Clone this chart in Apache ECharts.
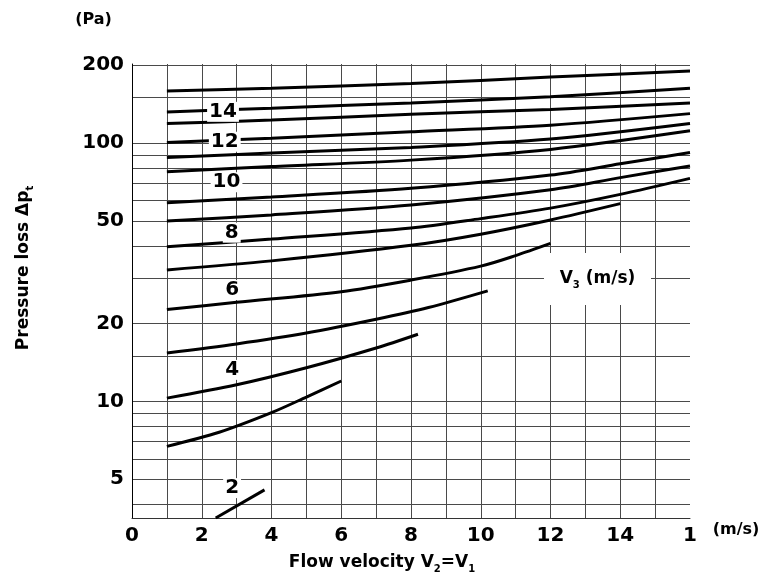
<!DOCTYPE html>
<html>
<head>
<meta charset="utf-8">
<script src="https://cdn.jsdelivr.net/npm/echarts@6/dist/echarts.min.js"></script>
<style>
html,body{margin:0;padding:0;background:#fff;}
#chart{width:768px;height:584px;}
</style>
</head>
<body>
<div id="chart"></div>
<script>
// ---- data ----
const xTickValues = [0, 2, 4, 6, 8, 10, 12, 14, 16];
const xTickLabels = ['0', '2', '4', '6', '8', '10', '12', '14', '1'];
const xGridValues = [0, 1, 2, 3, 4, 5, 6, 7, 8, 9, 10, 11, 12, 13, 14, 15];
const yTickValues = [5, 10, 20, 50, 100, 200];
const yGridValues = [4, 5, 6, 7, 8, 9, 10, 15, 20, 30, 40, 50, 60, 70, 80, 90, 100, 150, 200];

const curve1 = [[1, 159], [4, 163], [8, 170], [12, 180], [16, 190]];
const curve2 = [[1, 132], [4, 136.5], [8, 143], [12, 151], [16, 163]];
const curve3 = [[1, 119], [4, 122.7], [8, 129.4], [12, 135], [16, 143]];
const curve4 = [[1, 100.6], [4, 104.5], [8, 110.6], [12, 117.3], [16, 130]];
const curve5 = [[1, 88], [4, 91.5], [8, 96.2], [12, 103.6], [16, 119]];
const curve6 = [[1, 77.4], [4, 81.1], [8, 85.9], [12, 94.5], [16, 111.5]];
const curve7 = [[1, 58.8], [4, 61.8], [8, 66.8], [12, 75.2], [14, 83.1], [16, 92.0]];
const curve8 = [[1, 49.9], [4, 52.7], [8, 57.6], [12, 66.0], [14, 73.5], [16, 81.5]];
const curve9 = [[1, 39.7], [4, 42.5], [8, 46.9], [10, 51.0], [12, 56.0], [14, 63.3], [16, 73.0]];
const curve10 = [[1, 32.3], [4, 35], [8, 40.2], [10, 44.4], [12, 50.4], [14, 58.3]];
const curve11 = [[1, 22.7], [3, 24.2], [6, 26.6], [8, 29.5], [10, 33.4], [11, 36.7], [12, 40.9]];
const curve12 = [[1, 15.4], [3, 16.7], [5, 18.4], [7, 20.8], [8.5, 23.1], [10.2, 26.8]];
const curve13 = [[1, 10.3], [3, 11.6], [5, 13.5], [7, 16.1], [8.2, 18.2]];
const curve14 = [[1, 6.7], [2.5, 7.6], [4, 9.05], [5, 10.4], [6, 12.0]];
const curve15 = [[2.4, 3.54], [3.8, 4.55]];
const curves = [curve1, curve2, curve3, curve4, curve5, curve6, curve7, curve8,
  curve9, curve10, curve11, curve12, curve13, curve14, curve15];

const curveLabelText = ['14', '12', '10', '8', '6', '4', '2'];
const curveLabelX = [2.61, 2.66, 2.71, 2.86, 2.87, 2.87, 2.87];
const curveLabelY = [132.1, 101.1, 70.5, 45.0, 27.0, 13.25, 4.62];

// ---- chart ----
const FONT = '"DejaVu Sans", sans-serif';
const GRID_COLOR = '#4a4a4a';
const chart = echarts.init(document.getElementById('chart'), null, {renderer: 'canvas'});

const lineSeries = curves.map((c, i) => ({
  type: 'line',
  name: 'curve' + (i + 1),
  data: c,
  smooth: 0.3,
  symbol: 'none',
  silent: true,
  z: 3,
  lineStyle: {color: '#000', width: 3},
  clip: true
}));

const labelSeries = {
  type: 'scatter',
  name: 'labels',
  z: 6,
  silent: true,
  symbolSize: 1,
  itemStyle: {color: 'rgba(0,0,0,0)', opacity: 1},
  data: curveLabelText.map((t, i) => ({value: [curveLabelX[i], curveLabelY[i]], name: t})),
  label: {
    show: true,
    position: 'inside',
    formatter: p => p.name,
    fontFamily: FONT,
    fontWeight: 'bold',
    fontSize: 20,
    color: '#000',
    opacity: 1,
    textBorderWidth: 0,
    backgroundColor: '#fff',
    padding: [0, 2, 0, 2],
    lineHeight: 20
  }
};

const option = {
  backgroundColor: '#fff',
  animation: false,
  grid: {left: 132, right: 78, top: 64, bottom: 66},
  xAxis: {
    type: 'value',
    min: 0,
    max: 16,
    axisLine: {show: true, lineStyle: {color: '#333', width: 1}},
    axisTick: {show: false, customValues: xGridValues},
    splitLine: {show: true, lineStyle: {color: GRID_COLOR, width: 1}},
    axisLabel: {
      customValues: xTickValues,
      formatter: v => xTickLabels[xTickValues.indexOf(v)],
      fontFamily: FONT, fontWeight: 'bold', fontSize: 20, color: '#000', margin: 8
    }
  },
  yAxis: {
    type: 'log',
    logBase: 10,
    min: 3.54,
    max: 202.3,
    axisLine: {show: true, lineStyle: {color: '#000', width: 1}},
    axisTick: {show: false, customValues: yGridValues},
    splitLine: {show: true, lineStyle: {color: GRID_COLOR, width: 1}},
    minorSplitLine: {show: false},
    axisLabel: {
      customValues: yTickValues,
      formatter: v => String(v),
      fontFamily: FONT, fontWeight: 'bold', fontSize: 20, color: '#000', margin: 8
    }
  },
  graphic: [
    {
      type: 'text', x: 93.5, y: 19.5, z: 100,
      style: {text: '(Pa)', font: 'bold 16px ' + FONT, fill: '#000', textAlign: 'center', textVerticalAlign: 'middle'}
    },
    {
      type: 'text', x: 736, y: 530, z: 100,
      style: {text: '(m/s)', font: 'bold 16px ' + FONT, fill: '#000', textAlign: 'center', textVerticalAlign: 'middle'}
    },
    {
      type: 'text', x: 382, y: 563, z: 100,
      style: {
        text: 'Flow velocity V{s|2}=V{s|1}',
        font: 'bold 17px ' + FONT, fill: '#000', textAlign: 'center', textVerticalAlign: 'middle',
        rich: {s: {font: 'bold 10px ' + FONT, fill: '#000', padding: [12, 0, 0, 0]}}
      }
    },
    {
      type: 'text', x: 24, y: 268, rotation: Math.PI / 2, z: 100,
      style: {
        text: 'Pressure loss Δp{s|t}',
        font: 'bold 17px ' + FONT, fill: '#000', textAlign: 'center', textVerticalAlign: 'middle',
        rich: {s: {font: 'bold 10px ' + FONT, fill: '#000', padding: [12, 0, 0, 0]}}
      }
    },
    {
      type: 'rect', z: 100,
      shape: {x: 544, y: 253, width: 107, height: 52},
      style: {fill: '#fff'}
    },
    {
      type: 'text', x: 597.5, y: 279, z: 101,
      style: {
        text: 'V{s|3} (m/s)',
        font: 'bold 17px ' + FONT, fill: '#000', textAlign: 'center', textVerticalAlign: 'middle',
        rich: {s: {font: 'bold 10px ' + FONT, fill: '#000', padding: [12, 0, 0, 0]}}
      }
    }
  ],
  series: lineSeries.concat([labelSeries])
};
chart.setOption(option);
</script>
</body>
</html>
